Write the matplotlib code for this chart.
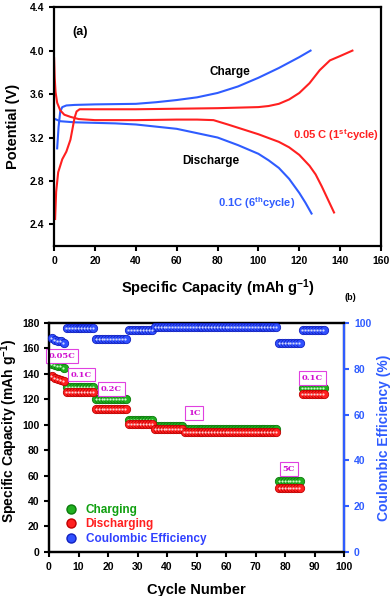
import numpy as np
import matplotlib
matplotlib.use('Agg')
import matplotlib.pyplot as plt
from matplotlib.lines import Line2D
from matplotlib.ticker import FormatStrFormatter

plt.rcParams['font.family'] = 'Liberation Sans'
plt.rcParams['font.weight'] = 'bold'
plt.rcParams['axes.labelweight'] = 'bold'
plt.rcParams['mathtext.fontset'] = 'custom'
plt.rcParams['mathtext.rm'] = 'Liberation Sans:bold'
plt.rcParams['mathtext.bf'] = 'Liberation Sans:bold'
plt.rcParams['mathtext.default'] = 'bf'

# ---- (a) charge / discharge curves
blue_chg_x = [1.5, 2.2, 3, 4, 6, 10, 20, 40, 50, 60, 70, 80, 90, 100, 110, 120, 125.5]
blue_chg_y = [3.10, 3.30, 3.44, 3.48, 3.495, 3.50, 3.505, 3.51, 3.525, 3.545, 3.57, 3.61, 3.67, 3.75, 3.84, 3.94, 4.0]
blue_dis_x = [0.5, 3, 10, 20, 30, 40, 50, 60, 70, 80, 90, 100, 105, 110, 115, 120, 123, 126]
blue_dis_y = [3.37, 3.35, 3.34, 3.335, 3.33, 3.32, 3.30, 3.28, 3.24, 3.20, 3.13, 3.05, 2.99, 2.92, 2.82, 2.69, 2.60, 2.50]
red_dis_x = [0, 0.3, 0.7, 1.5, 3, 5, 8, 12, 20, 40, 60, 70, 78, 85, 90, 100, 110, 115, 120, 125, 128, 131, 134, 137]
red_dis_y = [3.93, 3.75, 3.62, 3.52, 3.45, 3.41, 3.39, 3.37, 3.36, 3.36, 3.365, 3.365, 3.36, 3.32, 3.29, 3.23,
             3.16, 3.11, 3.04, 2.94, 2.86, 2.75, 2.63, 2.51]
red_chg_x = [0.5, 1, 2, 4, 6, 8, 9, 10, 11, 12.5, 20, 40, 60, 80, 100, 105, 110, 115, 120, 125, 130, 135, 140, 146]
red_chg_y = [2.45, 2.70, 2.88, 3.00, 3.07, 3.18, 3.28, 3.38, 3.44, 3.46, 3.46, 3.46, 3.465, 3.47, 3.48, 3.49,
             3.51, 3.55, 3.61, 3.70, 3.82, 3.91, 3.95, 4.0]

# ---- (b) rate performance
cycles = np.arange(1, 94)
charging = ([148, 147, 146, 146, 145] + [129.5] * 10 + [120] * 11 + [104] * 9
            + [99] * 10 + [97] * 32 + [55.5] * 8 + [129] * 8)
discharging = ([138, 137, 136, 135.5, 134.5] + [125.5] * 10 + [112.5] * 11 + [100.5] * 9
               + [96.5] * 10 + [94.5] * 32 + [50.5] * 8 + [124.5] * 8)
efficiency = ([93.3, 92.5, 92.2, 92.0, 91.2] + [97.8] * 10 + [93.2] * 11 + [97.0] * 9
              + [98.2] * 42 + [91.2] * 8 + [96.8] * 8)
rate_labels = ['0.05C', '0.1C', '0.2C', '1C', '5C', '0.1C']
rate_label_x = [4.4, 10.9, 21.1, 49.2, 81.3, 89.3]
rate_label_y = [154, 139.5, 128, 109, 65.5, 137]

RED = '#ff2020'
BLUE = '#2f5cff'


def style_ticks(a, color='black'):
    a.tick_params(labelsize=7.5, width=1.5, length=3.5, colors=color)
    for lab in a.get_xticklabels() + a.get_yticklabels():
        lab.set_fontweight('bold')


fig = plt.figure(figsize=(3.92, 5.96), dpi=100)

ax = fig.add_axes([0.138, 0.587, 0.834, 0.401])
ax.plot(blue_chg_x, blue_chg_y, color=BLUE, lw=1.5)
ax.plot(blue_dis_x, blue_dis_y, color=BLUE, lw=1.5)
ax.plot(red_dis_x, red_dis_y, color=RED, lw=1.5)
ax.plot(red_chg_x, red_chg_y, color=RED, lw=1.5)
ax.set_xlim(0, 160)
ax.set_ylim(2.2, 4.4)
ax.set_xticks(np.arange(0, 161, 20))
ax.set_yticks(np.arange(2.4, 4.41, 0.4))
ax.yaxis.set_major_formatter(FormatStrFormatter('%.1f'))
style_ticks(ax)
for s in ax.spines.values():
    s.set_linewidth(1.6)
ax.set_xlabel('Specific Capacity (mAh g$^{-1}$)', fontsize=10.5, labelpad=8)
ax.set_ylabel('Potential (V)', fontsize=10.5)
ax.yaxis.set_label_coords(-0.105, 0.5)
ax.text(12.5, 4.17, '(a)', fontsize=9, ha='center', va='center')
ax.text(86, 3.80, 'Charge', fontsize=8.5, ha='center', va='center')
ax.text(76.5, 2.98, 'Discharge', fontsize=8.5, ha='center', va='center')
ax.text(137.8, 3.225, '0.05 C (1$^{st}$cycle)', fontsize=8, color=RED, ha='center', va='center')
ax.text(98.9, 2.60, '0.1C (6$^{th}$cycle)', fontsize=8, color=BLUE, ha='center', va='center')

fig.text(350 / 392, 1 - 297 / 596, '(b)', fontsize=6.5, ha='center', va='center')

# ---- bottom panel
bx = fig.add_axes([0.125, 0.074, 0.753, 0.384])
bx2 = bx.twinx()


def spheres(a, x, y, base, edge, light, zo=3):
    a.plot(x, y, 'o', ms=6, mfc=base, mec=edge, mew=0.6, zorder=zo, clip_on=False)
    a.plot(np.asarray(x) - 0.2, np.asarray(y), 'o', ms=1.6, mfc=light, mec='none', zorder=zo + 0.1, clip_on=False)


spheres(bx, cycles, charging, '#20b020', '#0b7a0b', '#c8ffc8')
spheres(bx, cycles, discharging, '#ff2020', '#c00000', '#ffd0d0', zo=4)
spheres(bx2, cycles, efficiency, '#3050ff', '#1020c0', '#d0d8ff')

for t, x, y in zip(rate_labels, rate_label_x, rate_label_y):
    bx.text(x, y, t, fontsize=6, family='DejaVu Serif', fontweight='bold', color='#d010d0',
            ha='center', va='center', zorder=6,
            bbox=dict(boxstyle='square,pad=0.35', fc='white', ec='#e040e0', lw=0.8))

bx.set_xlim(0, 100)
bx.set_ylim(0, 180)
bx.set_xticks(np.arange(0, 101, 10))
bx.set_yticks(np.arange(0, 181, 20))
bx2.set_ylim(0, 100)
bx2.set_yticks(np.arange(0, 101, 20))
style_ticks(bx)
style_ticks(bx2, BLUE)
for s in list(bx.spines.values()) + list(bx2.spines.values()):
    s.set_linewidth(1.6)
bx2.spines['right'].set_color(BLUE)
bx.set_xlabel('Cycle Number', fontsize=10.5, labelpad=8)
bx.set_ylabel('Specific Capacity (mAh g$^{-1}$)', fontsize=10)
bx.yaxis.set_label_coords(-0.098, 0.53)
bx2.set_ylabel('Coulombic Efficiency (%)', fontsize=10, color=BLUE)
bx2.yaxis.set_label_coords(1.112, 0.5)

handles = [
    Line2D([], [], ls='none', marker='o', ms=6.5, mfc='#20b020', mec='#0b7a0b'),
    Line2D([], [], ls='none', marker='o', ms=6.5, mfc='#ff2020', mec='#c00000'),
    Line2D([], [], ls='none', marker='o', ms=6.5, mfc='#3050ff', mec='#1020c0'),
]
leg = bx2.legend(handles, ['Charging', 'Discharging', 'Coulombic Efficiency'], loc='lower left',
                 bbox_to_anchor=(0.02, -0.015), frameon=False, labelspacing=0.2,
                 handletextpad=0.7, handlelength=1.0,
                 labelcolor=['#10a010', '#ff2020', '#3040ff'], prop={'weight': 'bold', 'size': 8.5})

fig.savefig('out.png', dpi=100)
